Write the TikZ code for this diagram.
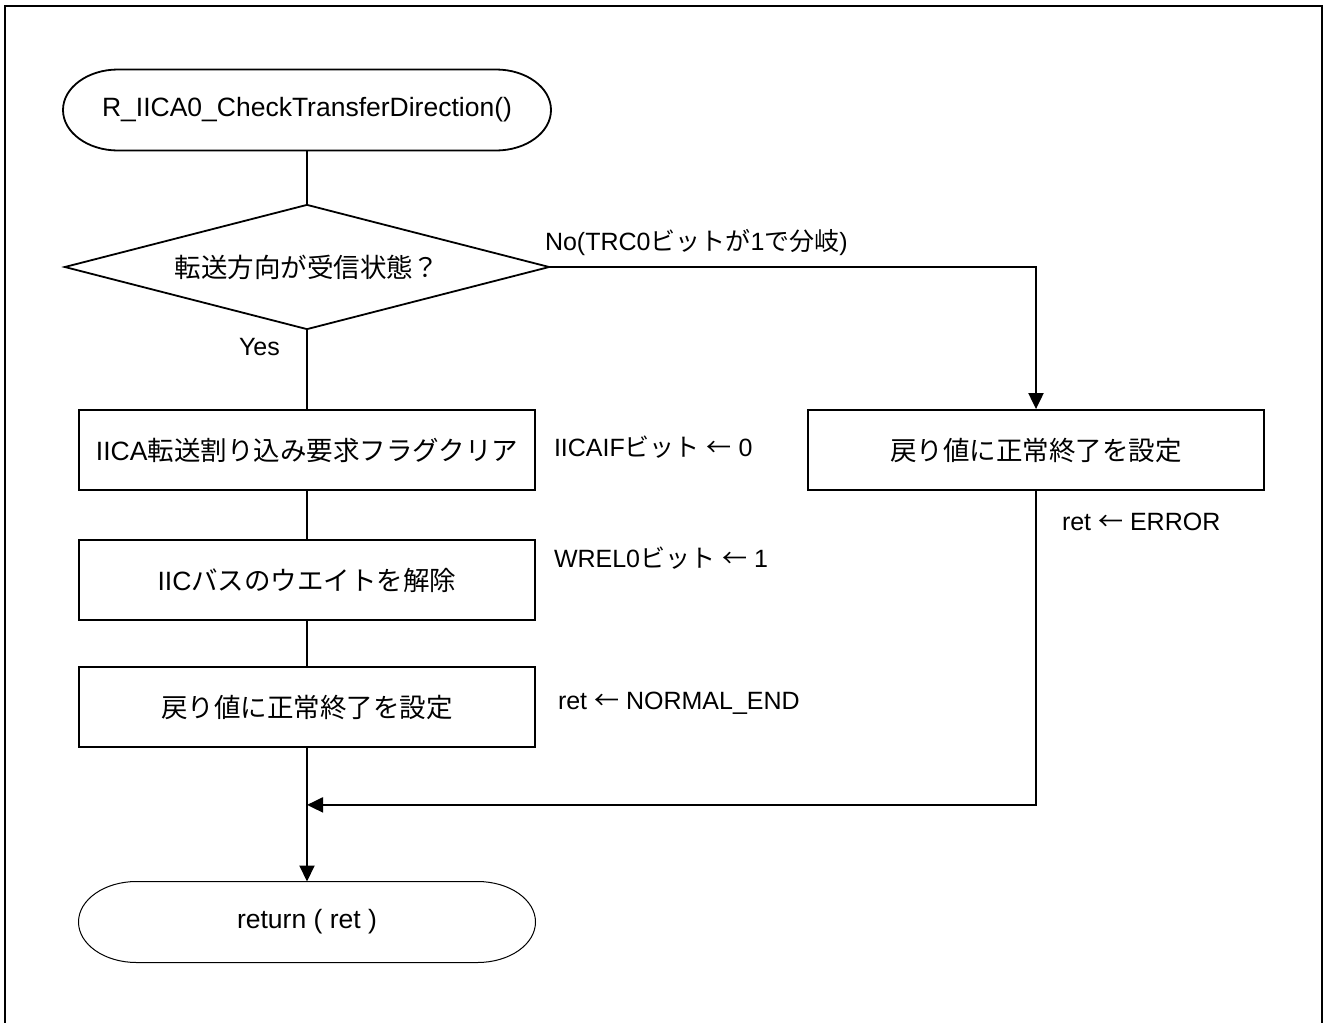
\documentclass[tikz,border=0pt]{standalone}
\usepackage{fontspec}
\setmainfont{Liberation Sans}
\newfontfamily\jp{Noto Sans CJK JP}
\usetikzlibrary{shapes.geometric,arrows.meta}

\begin{document}
\begin{tikzpicture}[x=0.5pt, y=-0.5pt, line width=1pt,
    font=\fontsize{13.25pt}{16pt}\selectfont,
    proc/.style={draw, line width=0.9pt, minimum width=228pt, minimum height=40pt, inner sep=0pt},
    term/.style={minimum height=40.5pt, inner sep=0pt, outer sep=0pt},
    note/.style={font=\fontsize{12.5pt}{15pt}\selectfont, anchor=west, inner sep=0pt},
    arr/.style={-{Triangle[length=8pt,width=7.5pt]}}]%
    \useasboundingbox (0,0) rectangle (1324,1023);
    \draw[line width=1pt] (5,6) rectangle (1322,1040);
    \draw node [term, minimum width=244pt] (start) at (307,110) {R\_IICA0\_CheckTransferDirection()};
    \draw node [draw, diamond, aspect=3.88, line width=0.9pt, inner sep=0pt, minimum width=242.5pt, minimum height=62.5pt, node distance=78.5pt, below of=start] (dir) {\jp 転送方向が受信状態？};
    \draw node [proc, node distance=91.5pt, below of=dir] (clrflag) {IICA{\jp 転送割り込み要求フラグクリア}};
    \draw node [proc, node distance=65pt, below of=clrflag] (relwait) {IIC{\jp バスのウエイトを解除}};
    \draw node [proc, node distance=63.5pt, below of=relwait] (setok) {\jp 戻り値に正常終了を設定};
    \draw node [term, minimum width=228.5pt, node distance=107.5pt, below of=setok] (return) {return ( ret )};
    \draw node [proc, node distance=364.5pt, right of=clrflag] (seterr) {\jp 戻り値に正常終了を設定};
    % terminal outlines, elliptical ends
    \draw[line width=0.9pt] ([xshift=27.5pt]start.north west) -- ([xshift=-27.5pt]start.north east)
      arc[start angle=90, end angle=-90, x radius=27.5pt, y radius=20.25pt]
      -- ([xshift=27.5pt]start.south west)
      arc[start angle=270, end angle=90, x radius=27.5pt, y radius=20.25pt] -- cycle;
    \draw[line width=0.5pt] ([xshift=29pt]return.north west) -- ([xshift=-29pt]return.north east)
      arc[start angle=90, end angle=-90, x radius=29pt, y radius=20.25pt]
      -- ([xshift=29pt]return.south west)
      arc[start angle=270, end angle=90, x radius=29pt, y radius=20.25pt] -- cycle;
    \coordinate (join) at ([yshift=-28.5pt]setok.south);
    %\draw grid (1324,1023);
    \draw (start) -- (dir);
    \draw (dir) -- (clrflag);
    \draw (clrflag) -- (relwait);
    \draw (relwait) -- (setok);
    \draw[arr] (dir.east) -| (seterr.north);
    \draw[arr] (seterr.south) |- (join);
    \draw[arr] (setok) -- (return);
    \node[note] (nolbl) at (544,243) {No(TRC0{\jp ビットが}1{\jp で分岐})};
    \node[note] (yeslbl) at (238,347) {Yes};
    \node[note] (flaglbl) at (553,447) {IICAIF{\jp ビット} {\jp ←} 0};
    \node[note] (wrellbl) at (553,558) {WREL0{\jp ビット} {\jp ←} 1};
    \node[note] (oklbl) at (557,703) {ret {\jp ←} NORMAL\_END};
    \node[note] (errlbl) at (1061,522) {ret {\jp ←} ERROR};
  \end{tikzpicture}
\end{document}
